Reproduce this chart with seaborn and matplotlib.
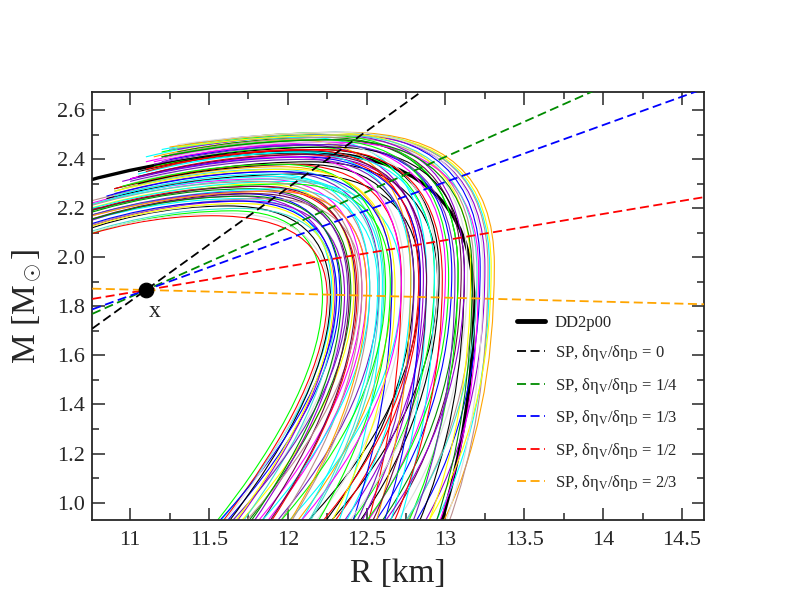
import matplotlib
matplotlib.use("Agg")
import matplotlib.pyplot as plt
from matplotlib.path import Path
from matplotlib.patches import PathPatch
from matplotlib.lines import Line2D
from matplotlib.ticker import MultipleLocator, FormatStrFormatter
import pandas as pd
import seaborn as sns

# --- axis ranges ---
R_MIN, R_MAX = 10.76, 14.64
M_MIN, M_MAX = 0.928, 2.673
M_BOT = 0.90  # mass where the stable branches leave the frame

# xmgrace palette
grace = {
    "black": "#000000", "red": "#ff0000", "green": "#00ff00", "blue": "#0000ff",
    "yellow": "#ffff00", "brown": "#bc8f8f", "grey": "#dcdcdc", "violet": "#9400d3",
    "cyan": "#00ffff", "magenta": "#ff00ff", "orange": "#ffa500", "indigo": "#7221bc",
    "maroon": "#670748", "turquoise": "#40e0d0", "green4": "#008b00",
}

# --- M-R curves, characteristic points ---
# r_bot: R at the bottom of the frame; m_bend: where the stable branch turns up;
# r_nose / m_nose: largest radius; r_top / m_top: maximum mass;
# r_end / m_end: last point of the unstable branch
r_bot = [11.52, 11.54, 11.56, 11.58, 11.60, 11.62, 11.65, 11.67, 11.69, 11.72,
         11.76, 11.78, 11.81, 11.84, 11.87, 11.90, 11.93, 11.97, 12.00, 12.03,
         12.06, 12.09, 12.12, 12.15, 12.17, 12.21, 12.24, 12.27, 12.31, 12.33,
         12.35, 12.38, 12.40, 12.43, 12.45, 12.48, 12.50, 12.53, 12.55, 12.57,
         12.60, 12.62, 12.64, 12.67, 12.70, 12.73, 12.75, 12.79, 12.82, 12.85,
         12.88, 12.92, 12.95, 12.97, 13.01,
         11.53, 11.57, 11.61, 11.64, 11.70, 11.74, 11.80, 11.86, 11.92, 11.99,
         12.05, 12.11, 12.19, 12.26, 12.36, 12.42, 12.47, 12.52, 12.59, 12.66,
         12.72, 12.78, 12.87, 12.93, 12.99]
r_nose = [12.22, 12.28, 12.25, 12.33, 12.27, 12.36, 12.30, 12.42, 12.31, 12.40,
          12.36, 12.47, 12.39, 12.50, 12.44, 12.58, 12.47, 12.72, 12.52, 12.66,
          12.57, 12.84, 12.61, 12.74, 12.65, 12.80, 12.95, 12.84, 12.60, 12.88,
          12.78, 12.93, 12.66, 12.96, 12.86, 13.00, 12.72, 13.04, 12.78, 13.08,
          12.84, 13.10, 12.88, 13.14, 12.93, 13.18, 13.08, 13.22, 13.12, 13.25,
          13.16, 13.28, 13.21, 13.31, 13.27,
          12.31, 12.26, 12.38, 12.29, 12.45, 12.34, 12.52, 12.43, 12.62, 12.50,
          12.72, 12.58, 12.83, 12.68, 12.95, 12.80, 13.02, 12.88, 13.12, 12.98,
          13.20, 13.06, 13.29, 13.17, 13.24]
m_bend = [1.46, 1.45, 1.47, 1.44, 1.46, 1.43, 1.45, 1.43, 1.44, 1.44,
          1.45, 1.42, 1.44, 1.42, 1.44, 1.41, 1.43, 1.41, 1.43, 1.40,
          1.42, 1.40, 1.42, 1.39, 1.41, 1.39, 1.41, 1.38, 1.40, 1.38,
          1.40, 1.37, 1.39, 1.37, 1.39, 1.36, 1.38, 1.36, 1.38, 1.35,
          1.37, 1.35, 1.37, 1.35, 1.36, 1.34, 1.36, 1.34, 1.35, 1.34,
          1.35, 1.33, 1.35, 1.33, 1.34,
          1.44, 1.46, 1.42, 1.45, 1.42, 1.44, 1.41, 1.43, 1.40, 1.42,
          1.39, 1.41, 1.38, 1.40, 1.37, 1.39, 1.36, 1.38, 1.35, 1.37,
          1.34, 1.36, 1.33, 1.35, 1.34]
m_nose = [1.84, 1.85, 1.84, 1.86, 1.84, 1.86, 1.85, 1.87, 1.85, 1.86,
          1.85, 1.87, 1.86, 1.88, 1.86, 1.89, 1.87, 1.89, 1.87, 1.90,
          1.88, 1.90, 1.89, 1.91, 1.89, 1.91, 1.90, 1.92, 1.90, 1.92,
          1.91, 1.93, 1.91, 1.93, 1.92, 1.94, 1.92, 1.94, 1.92, 1.94,
          1.93, 1.95, 1.93, 1.95, 1.94, 1.95, 1.94, 1.96, 1.94, 1.96,
          1.95, 1.96, 1.95, 1.97, 1.96,
          1.85, 1.84, 1.86, 1.85, 1.86, 1.85, 1.87, 1.86, 1.88, 1.87,
          1.89, 1.87, 1.90, 1.88, 1.91, 1.89, 1.92, 1.90, 1.93, 1.91,
          1.94, 1.92, 1.96, 1.93, 1.95]
m_top = [2.19, 2.24, 2.17, 2.26, 2.21, 2.22, 2.25, 2.30, 2.20, 2.28,
         2.23, 2.32, 2.26, 2.27, 2.29, 2.35, 2.24, 2.31, 2.33, 2.37,
         2.28, 2.34, 2.36, 2.40, 2.30, 2.38, 2.39, 2.42, 2.33, 2.41,
         2.43, 2.45, 2.35, 2.44, 2.46, 2.47, 2.38, 2.46, 2.48, 2.49,
         2.41, 2.48, 2.49, 2.50, 2.43, 2.49, 2.50, 2.51, 2.45, 2.50,
         2.51, 2.51, 2.47, 2.51, 2.50,
         2.23, 2.18, 2.27, 2.22, 2.31, 2.25, 2.34, 2.29, 2.38, 2.27,
         2.41, 2.32, 2.44, 2.36, 2.47, 2.40, 2.48, 2.42, 2.50, 2.44,
         2.50, 2.46, 2.50, 2.48, 2.51]
r_top = [11.65, 11.70, 11.52, 11.72, 11.62, 11.78, 11.68, 11.82, 11.70, 11.76,
         11.74, 11.84, 11.80, 11.90, 11.78, 11.92, 11.86, 11.99, 11.86, 11.96,
         11.94, 12.07, 11.92, 12.02, 12.00, 12.10, 12.14, 12.08, 11.92, 12.16,
         12.04, 12.14, 11.96, 12.20, 12.08, 12.18, 12.00, 12.24, 12.04, 12.22,
         12.08, 12.28, 12.10, 12.26, 12.14, 12.32, 12.20, 12.30, 12.28, 12.36,
         12.26, 12.34, 12.32, 12.38, 12.40,
         11.68, 11.60, 11.80, 11.70, 11.82, 11.74, 11.90, 11.84, 11.96, 11.92,
         12.02, 11.98, 12.10, 12.02, 12.16, 12.12, 12.22, 12.16, 12.28, 12.22,
         12.30, 12.26, 12.42, 12.30, 12.34]
r_end = [10.50, 10.50, 10.50, 10.50, 10.50, 10.50, 10.50, 10.50, 10.50, 10.50,
         10.50, 10.50, 10.50, 10.50, 10.50, 10.90, 10.50, 10.50, 10.50, 10.95,
         10.50, 10.85, 10.90, 11.00, 10.50, 10.90, 11.05, 11.00, 10.50, 10.95,
         11.10, 11.15, 10.85, 11.05, 11.20, 11.10, 10.90, 11.25, 11.15, 11.30,
         11.00, 11.20, 11.10, 11.30, 11.05, 11.25, 11.20, 11.35, 11.10, 11.25,
         11.30, 11.20, 11.15, 11.25, 11.35,
         10.50, 10.50, 10.50, 10.50, 10.50, 10.50, 10.90, 10.50, 10.95, 10.50,
         11.00, 10.50, 11.10, 10.90, 11.20, 11.00, 11.20, 11.05, 11.30, 11.10,
         11.25, 11.15, 11.30, 11.20, 11.30]
m_end = [2.04, 2.10, 2.04, 2.12, 2.06, 2.08, 2.09, 2.15, 2.05, 2.13,
         2.07, 2.17, 2.10, 2.12, 2.14, 2.26, 2.08, 2.15, 2.18, 2.28,
         2.12, 2.24, 2.27, 2.30, 2.14, 2.28, 2.30, 2.32, 2.16, 2.31,
         2.35, 2.37, 2.25, 2.35, 2.39, 2.39, 2.28, 2.40, 2.41, 2.43,
         2.32, 2.41, 2.41, 2.44, 2.34, 2.42, 2.43, 2.46, 2.37, 2.44,
         2.45, 2.44, 2.39, 2.45, 2.45,
         2.08, 2.05, 2.12, 2.07, 2.16, 2.10, 2.25, 2.14, 2.29, 2.12,
         2.32, 2.17, 2.35, 2.27, 2.40, 2.31, 2.41, 2.33, 2.44, 2.36,
         2.44, 2.38, 2.45, 2.41, 2.46]
curve_colors = ["green", "cyan", "red", "blue", "black", "grey", "violet", "yellow", "turquoise", "green4",
                "violet", "magenta", "maroon", "magenta", "red", "indigo", "brown", "cyan", "brown", "orange",
                "cyan", "black", "turquoise", "grey", "green", "black", "black", "red", "cyan", "violet",
                "cyan", "green", "blue", "black", "violet", "magenta", "red", "blue", "orange", "green4",
                "blue", "maroon", "cyan", "grey", "cyan", "brown", "green", "blue", "black", "violet",
                "yellow", "cyan", "magenta", "orange", "brown",
                "blue", "grey", "indigo", "yellow", "brown", "green4", "cyan", "maroon", "green", "orange",
                "magenta", "turquoise", "red", "yellow", "grey", "indigo", "green", "maroon", "violet", "red",
                "turquoise", "indigo", "yellow", "green4", "grey"]

# DD2p00 reference curve (same characteristic points)
dd2 = dict(r_bot=12.965, m_bend=1.35, r_nose=13.18, m_nose=1.82,
           m_top=2.43, r_top=12.08, r_end=10.50, m_end=2.27)

# --- special point X and the SP lines through it ---
x_R, x_M = 11.10, 1.867
sp_labels = ["0", "1/4", "1/3", "1/2", "2/3"]
sp_slopes = [0.463, 0.286, 0.232, 0.107, -0.0164]  # dM/dR
sp_colors = ["black", "green4", "blue", "red", "orange"]


def mr_path(rb, mc, rn, mn, mm, rm, re, me):
    verts = [(rb, M_BOT), (rn, mc), (rn, mn),          # stable branch up to the nose
             (rn, mm), (rm, mm),                       # nose -> maximum mass
             ((rm + re) / 2, mm), (re, me)]            # unstable branch
    codes = [Path.MOVETO] + [Path.CURVE3] * 6
    return Path(verts, codes)


sns.set_style("ticks")
plt.rcParams["font.family"] = ["Liberation Serif", "DejaVu Serif"]
plt.rcParams["mathtext.fontset"] = "custom"
plt.rcParams["mathtext.rm"] = "Liberation Serif"
plt.rcParams["mathtext.it"] = "Liberation Serif:italic"

fig, ax = plt.subplots(figsize=(7.92, 6.12), dpi=100)
fig.subplots_adjust(left=0.1165, right=0.889, top=0.849, bottom=0.150)

# thick DD2p00 underneath the bundle
ax.add_patch(PathPatch(mr_path(dd2["r_bot"], dd2["m_bend"], dd2["r_nose"], dd2["m_nose"],
                               dd2["m_top"], dd2["r_top"], dd2["r_end"], dd2["m_end"]),
                       fill=False, edgecolor="black", lw=2.4, zorder=1))

for i in range(len(r_bot)):
    p = mr_path(r_bot[i], m_bend[i], r_nose[i], m_nose[i],
                m_top[i], r_top[i], r_end[i], m_end[i])
    ax.add_patch(PathPatch(p, fill=False, edgecolor=grace[curve_colors[i]], lw=0.8, zorder=2))

# SP lines
rows = []
for lab, s in zip(sp_labels, sp_slopes):
    for r in (R_MIN, R_MAX):
        rows.append({"R": r, "M": x_M + s * (r - x_R), "ratio": lab})
sp_df = pd.DataFrame(rows)
sns.lineplot(data=sp_df, x="R", y="M", hue="ratio", hue_order=sp_labels,
             palette=[grace[c] for c in sp_colors], style="ratio",
             dashes={lab: (5, 2.5) for lab in sp_labels},
             sort=False, estimator=None, lw=1.3, legend=False, ax=ax, zorder=5)

sns.scatterplot(x=[x_R], y=[x_M], color="black", s=110, zorder=6, ax=ax, edgecolor="black")
ax.text(11.157, 1.781, "x", fontsize=17, ha="center", va="center", zorder=6)

ax.set_xlim(R_MIN, R_MAX)
ax.set_ylim(M_MIN, M_MAX)
ax.xaxis.set_major_locator(MultipleLocator(0.5))
ax.xaxis.set_minor_locator(MultipleLocator(0.25))
ax.yaxis.set_major_locator(MultipleLocator(0.2))
ax.yaxis.set_minor_locator(MultipleLocator(0.1))
ax.xaxis.set_major_formatter(FormatStrFormatter("%g"))
ax.yaxis.set_major_formatter(FormatStrFormatter("%.1f"))
ax.tick_params(which="both", direction="in", top=True, right=True, width=1.1, labelsize=16)
ax.tick_params(which="major", length=9)
ax.tick_params(which="minor", length=5)
ax.tick_params(axis="x", pad=8)
ax.tick_params(axis="y", pad=5)
for sp in ax.spines.values():
    sp.set_linewidth(1.3)

ax.set_xlabel("R [km]", fontsize=24, labelpad=6)
ax.set_ylabel(r"M [M$_\odot$]", fontsize=24, labelpad=10)

handles = [Line2D([], [], color="black", lw=3.5)]
labels = ["DD2p00"]
for lab, c in zip(sp_labels, sp_colors):
    handles.append(Line2D([], [], color=grace[c], lw=1.3, ls=(0, (5, 2.5))))
    labels.append(r"SP, δη$_\mathrm{V}$/δη$_\mathrm{D}$ = " + lab)
ax.legend(handles, labels, loc="upper left", bbox_to_anchor=(0.680, 0.50), frameon=False,
          fontsize=12, handlelength=1.7, handletextpad=0.6, labelspacing=0.75, borderpad=0)

fig.savefig("out.png", dpi=100)
